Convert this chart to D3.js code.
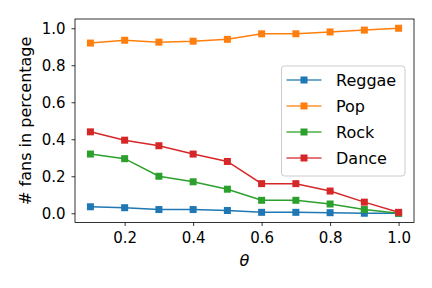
<!DOCTYPE html>
<head>
  <meta charset="utf-8">
  <style>
    body { margin: 0; background: #fff; }
    text { font-family: "DejaVu Sans", sans-serif; }
  </style>
</head>
<body>
<svg width="432" height="288"></svg>
<script src="https://d3js.org/d3.v7.min.js"></script>
<script>

var theta = [0.1, 0.2, 0.3, 0.4, 0.5, 0.6, 0.7, 0.8, 0.9, 1.0];
var reggae = [0.035, 0.03, 0.02, 0.02, 0.015, 0.005, 0.005, 0.003, 0.0, 0.0];
var pop = [0.92, 0.935, 0.925, 0.93, 0.94, 0.97, 0.97, 0.98, 0.99, 1.0];
var rock = [0.32, 0.295, 0.2, 0.17, 0.13, 0.07, 0.07, 0.05, 0.02, 0.0];
var dance = [0.44, 0.395, 0.365, 0.32, 0.28, 0.16, 0.16, 0.12, 0.06, 0.005];
var seriesNames = ["Reggae", "Pop", "Rock", "Dance"];
var xTicks = [0.2, 0.4, 0.6, 0.8, 1.0];
var yTicks = [0.0, 0.2, 0.4, 0.6, 0.8, 1.0];

var series = [reggae, pop, rock, dance];
var colors = ["#1f77b4", "#ff7f0e", "#2ca02c", "#d62728"];

// plot box (note: "top" is a reserved window property, so use pX names)
var svg = d3.select("svg"),
    pLeft = 75, pRight = 414, pTop = 19, pBottom = 222.5;

var x = d3.scaleLinear().domain([0.055, 1.045]).range([pLeft, pRight]);
var y = d3.scaleLinear().domain([-0.05, 1.05]).range([pBottom, pTop]);

// axes
var xAxis = svg.append("g")
    .attr("transform", "translate(0," + pBottom + ")")
    .call(d3.axisBottom(x).tickValues(xTicks).tickSize(3.5).tickPadding(6.5)
      .tickFormat(d3.format(".1f")));
var yAxis = svg.append("g")
    .attr("transform", "translate(" + pLeft + ",0)")
    .call(d3.axisLeft(y).tickValues(yTicks).tickSize(3.5).tickPadding(6)
      .tickFormat(d3.format(".1f")));

[xAxis, yAxis].forEach(function(g) {
  g.select(".domain").remove();
  g.selectAll("line").attr("stroke", "#000").attr("stroke-width", 0.8);
  g.selectAll("text").attr("fill", "#000").style("font-size", "15px")
    .style("font-family", "DejaVu Sans");
});

svg.append("rect")
    .attr("x", pLeft).attr("y", pTop)
    .attr("width", pRight - pLeft).attr("height", pBottom - pTop)
    .attr("fill", "none").attr("stroke", "#000").attr("stroke-width", 0.8);

// lines
var line = d3.line()
    .x(function(d, i) { return x(theta[i]); })
    .y(function(d) { return y(d); });

series.forEach(function(s, k) {
  svg.append("path")
      .datum(s)
      .attr("d", line)
      .attr("fill", "none")
      .attr("stroke", colors[k])
      .attr("stroke-width", 1.5);
  svg.selectAll(null)
      .data(s)
      .enter().append("rect")
      .attr("x", function(d, i) { return x(theta[i]) - 3.5; })
      .attr("y", function(d) { return y(d) - 3.5; })
      .attr("width", 7).attr("height", 7)
      .attr("fill", colors[k]);
});

// legend
var legend = svg.append("g");
legend.append("rect")
    .attr("x", 281.5).attr("y", 66)
    .attr("width", 123.5).attr("height", 110)
    .attr("rx", 3)
    .attr("fill", "#fff").attr("fill-opacity", 0.8)
    .attr("stroke", "#cccccc").attr("stroke-width", 1);

seriesNames.forEach(function(name, k) {
  var ly = 80 + k * 26;
  legend.append("line")
      .attr("x1", 286.5).attr("x2", 321.5)
      .attr("y1", ly).attr("y2", ly)
      .attr("stroke", colors[k]).attr("stroke-width", 1.5)
      .attr("stroke-opacity", 0.85);
  legend.append("rect")
      .attr("x", 304 - 3.5).attr("y", ly - 3.5)
      .attr("width", 7).attr("height", 7)
      .attr("fill", colors[k]);
  legend.append("text")
      .attr("x", 336).attr("y", ly)
      .attr("dy", "0.35em")
      .style("font-size", "16px")
      .text(name);
});

// axis labels
svg.append("text")
    .attr("transform", "translate(25," + ((pTop + pBottom) / 2) + ") rotate(-90)")
    .attr("text-anchor", "middle")
    .attr("dy", "0.35em")
    .style("font-size", "16px")
    .text("# fans in percentage");

svg.append("text")
    .attr("x", (pLeft + pRight) / 2)
    .attr("y", 266)
    .attr("text-anchor", "middle")
    .style("font-size", "16px")
    .style("font-style", "italic")
    .text("θ");

</script>
</body>
